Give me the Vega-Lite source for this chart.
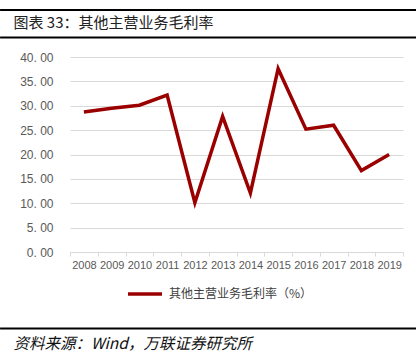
{
  "$schema": "https://vega.github.io/schema/vega-lite/v6.json",
  "width": 333,
  "height": 195,
  "autosize": {"type": "none"},
  "padding": {"left": 70, "top": 57, "right": 17, "bottom": 110},
  "background": "white",
  "config": {"view": {"stroke": null}},
  "resolve": {"scale": {"x": "independent", "y": "independent"}},
  "layer": [
    {
      "data": {
        "values": [
          {"year": "2008", "value": 28.7, "series": "其他主营业务毛利率（%）"},
          {"year": "2009", "value": 29.5, "series": "其他主营业务毛利率（%）"},
          {"year": "2010", "value": 30.1, "series": "其他主营业务毛利率（%）"},
          {"year": "2011", "value": 32.2, "series": "其他主营业务毛利率（%）"},
          {"year": "2012", "value": 10.1, "series": "其他主营业务毛利率（%）"},
          {"year": "2013", "value": 27.8, "series": "其他主营业务毛利率（%）"},
          {"year": "2014", "value": 12.1, "series": "其他主营业务毛利率（%）"},
          {"year": "2015", "value": 37.6, "series": "其他主营业务毛利率（%）"},
          {"year": "2016", "value": 25.2, "series": "其他主营业务毛利率（%）"},
          {"year": "2017", "value": 26.0, "series": "其他主营业务毛利率（%）"},
          {"year": "2018", "value": 16.7, "series": "其他主营业务毛利率（%）"},
          {"year": "2019", "value": 20.0, "series": "其他主营业务毛利率（%）"}
        ]
      },
      "mark": {"type": "line", "strokeWidth": 3.5},
      "encoding": {
        "x": {
          "field": "year",
          "type": "ordinal",
          "bandPosition": 0.5,
          "scale": {"type": "band", "paddingInner": 0, "paddingOuter": 0},
          "axis": {
            "title": "资料来源：Wind，万联证券研究所",
            "titleX": -57,
            "titleY": 91,
            "titleAnchor": "start",
            "titleAlign": "left",
            "titleBaseline": "middle",
            "titleFont": "Noto Sans CJK SC",
            "titleFontSize": 15.5,
            "titleFontStyle": "italic",
            "titleFontWeight": "normal",
            "titleColor": "#111111",
            "labelAngle": 0,
            "labelFont": "Liberation Sans",
            "labelFontSize": 11,
            "labelColor": "#595959",
            "labelPadding": 3,
            "domainColor": "#d9d9d9",
            "tickColor": "#d9d9d9",
            "tickSize": 4,
            "tickBand": "extent",
            "grid": false
          }
        },
        "y": {
          "field": "value",
          "type": "quantitative",
          "scale": {"domain": [0, 40], "nice": false},
          "axis": {
            "title": null,
            "values": [0, 5, 10, 15, 20, 25, 30, 35, 40],
            "labelExpr": "replace(format(datum.value, '.2f'), '.', '. ')",
            "labelOverlap": false,
            "domain": false,
            "ticks": false,
            "labelPadding": 17,
            "labelFont": "Liberation Sans",
            "labelFontSize": 12,
            "labelColor": "#595959",
            "gridColor": "#d9d9d9",
            "gridWidth": 1
          }
        },
        "color": {
          "field": "series",
          "type": "nominal",
          "scale": {"range": ["#9b0000"]},
          "legend": {
            "orient": "none",
            "legendX": 56,
            "legendY": 218,
            "title": null,
            "symbolType": "stroke",
            "symbolSize": 1156,
            "symbolStrokeWidth": 3.5,
            "labelFont": "Noto Sans CJK SC",
            "labelFontSize": 12,
            "labelColor": "#404040",
            "labelOffset": 5
          }
        }
      }
    },
    {
      "data": {"values": [{}]},
      "mark": {"type": "rule", "color": "#000000", "strokeWidth": 2, "clip": false},
      "encoding": {
        "y": {"datum": 49.64, "type": "quantitative", "scale": {"domain": [0, 40], "nice": false}, "axis": null},
        "x": {
          "datum": -0.21,
          "type": "quantitative",
          "scale": {"domain": [0, 1], "nice": false, "zero": false},
          "axis": {
            "orient": "top",
            "labels": false,
            "ticks": false,
            "domain": false,
            "grid": false,
            "title": "图表 33：其他主营业务毛利率",
            "titleX": -57,
            "titleY": -35,
            "titleAnchor": "start",
            "titleAlign": "left",
            "titleBaseline": "middle",
            "titleFont": "Noto Sans CJK SC",
            "titleFontSize": 15,
            "titleFontWeight": "normal",
            "titleColor": "#222222"
          }
        },
        "x2": {"datum": 1.039}
      }
    },
    {
      "data": {"values": [{}]},
      "mark": {"type": "rule", "color": "#000000", "strokeWidth": 2, "clip": false},
      "encoding": {
        "y": {"datum": 44.0, "type": "quantitative", "scale": {"domain": [0, 40], "nice": false}, "axis": null},
        "x": {"datum": -0.21, "type": "quantitative", "scale": {"domain": [0, 1], "nice": false, "zero": false}, "axis": null},
        "x2": {"datum": 1.039}
      }
    },
    {
      "data": {"values": [{}]},
      "mark": {"type": "rule", "color": "#000000", "strokeWidth": 2, "clip": false},
      "encoding": {
        "y": {"datum": -15.69, "type": "quantitative", "scale": {"domain": [0, 40], "nice": false}, "axis": null},
        "x": {"datum": -0.21, "type": "quantitative", "scale": {"domain": [0, 1], "nice": false, "zero": false}, "axis": null},
        "x2": {"datum": 1.039}
      }
    }
  ]
}
